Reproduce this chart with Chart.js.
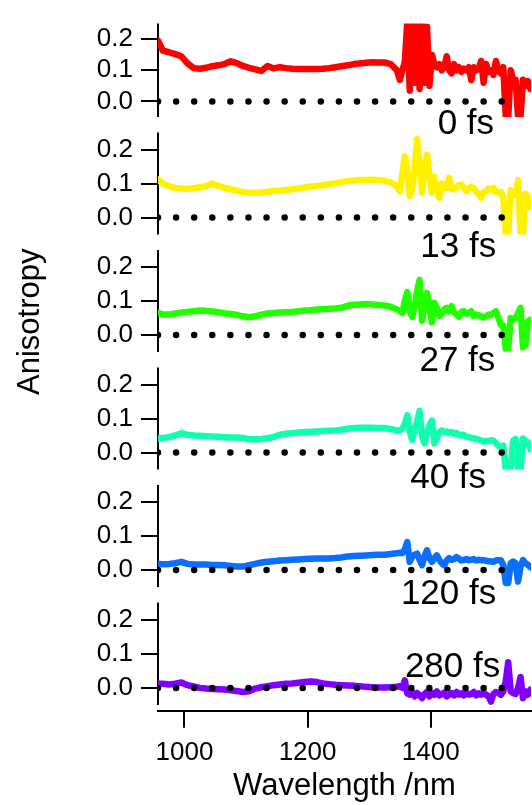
<!DOCTYPE html>
<html>
<head>
<meta charset="utf-8">
<script src="https://cdn.jsdelivr.net/npm/chart.js@4.4.0/dist/chart.umd.min.js"></script>
<style>
html,body{margin:0;padding:0;background:#fff;}
#wrap{position:relative;width:532px;height:805px;overflow:hidden;background:#fff;}
#wrap canvas{position:absolute;left:0;top:0;}
</style>
</head>
<body>
<div id="wrap"></div>
<script>
// ---------------- DATA ----------------
const wavelengths = [
  957, 965, 975, 985, 995, 1005, 1015, 1025, 1035, 1045,
  1055, 1065, 1075, 1085, 1095, 1105, 1115, 1125, 1135, 1145,
  1155, 1165, 1175, 1185, 1195, 1205, 1215, 1225, 1235, 1245,
  1255, 1265, 1275, 1285, 1295, 1305, 1315, 1325, 1335, 1345,
  1350, 1354, 1358, 1362, 1366, 1370, 1374, 1378, 1382, 1386,
  1390, 1394, 1398, 1402, 1406, 1410, 1414, 1418, 1422, 1426,
  1430, 1434, 1438, 1442, 1446, 1450, 1454, 1458, 1462, 1466,
  1470, 1474, 1478, 1482, 1486, 1490, 1494, 1498, 1502, 1506,
  1510, 1514, 1518, 1522, 1526, 1530, 1534, 1538, 1542, 1546,
  1550, 1554, 1558, 1562
];

const aniso0fs = [
  0.195, 0.163, 0.158, 0.152, 0.145, 0.122, 0.107, 0.105, 0.108, 0.113,
  0.116, 0.12, 0.129, 0.123, 0.114, 0.108, 0.103, 0.098, 0.114, 0.106,
  0.11, 0.107, 0.105, 0.104, 0.104, 0.104, 0.104, 0.105, 0.107, 0.11,
  0.113, 0.116, 0.12, 0.122, 0.124, 0.126, 0.125, 0.125, 0.12, 0.1,
  0.069, 0.1, 0.127, 0.255, 0.035, 0.25, 0.06, 0.245, 0.04, 0.25,
  0.06, 0.24, 0.05, 0.15, 0.12, 0.11, 0.12, 0.1, 0.11, 0.145,
  0.1, 0.09, 0.12, 0.1, 0.11, 0.095, 0.105, 0.1, 0.11, 0.068,
  0.11, 0.1, 0.105, 0.13, 0.06, 0.12, 0.095, 0.1, 0.085, 0.13,
  0.1, 0.09, 0.11, -0.05, -0.05, 0.1, 0.07, 0.07, -0.05, -0.05,
  0.07, 0.05, 0.065, 0.04
];

const aniso13fs = [
  0.112, 0.1, 0.092, 0.087, 0.085, 0.084, 0.086, 0.089, 0.092, 0.1,
  0.093, 0.087, 0.083, 0.079, 0.075, 0.073, 0.072, 0.073, 0.076, 0.078,
  0.079, 0.081, 0.083, 0.085, 0.088, 0.091, 0.093, 0.095, 0.098, 0.101,
  0.104, 0.107, 0.109, 0.11, 0.11, 0.111, 0.11, 0.108, 0.103, 0.092,
  0.077, 0.13, 0.18, 0.14, 0.063, 0.08, 0.15, 0.23, 0.15, 0.073,
  0.15, 0.185, 0.12, 0.073, 0.12, 0.075, 0.058, 0.1, 0.085, 0.087,
  0.117, 0.085, 0.082, 0.09, 0.095, 0.097, 0.085, 0.077, 0.085, 0.09,
  0.087, 0.075, 0.07, 0.058, 0.075, 0.077, 0.085, 0.08, 0.087, 0.075,
  0.073, 0.075, 0.06, -0.05, -0.05, 0.08, 0.07, 0.065, 0.11, -0.05,
  -0.05, 0.07, 0.06, 0.03
];

const aniso27fs = [
  0.065, 0.06, 0.06, 0.063, 0.066, 0.068, 0.07, 0.072, 0.071, 0.069,
  0.067, 0.064, 0.062, 0.059, 0.055, 0.052, 0.055, 0.06, 0.063, 0.065,
  0.066, 0.067, 0.068, 0.07, 0.072, 0.073, 0.075, 0.076, 0.077, 0.078,
  0.08, 0.086, 0.089, 0.09, 0.091, 0.09, 0.088, 0.087, 0.083, 0.076,
  0.07, 0.065, 0.1, 0.126, 0.07, 0.053, 0.085, 0.13, 0.162, 0.042,
  0.09, 0.124, 0.08, 0.037, 0.095, 0.08, 0.056, 0.062, 0.075, 0.08,
  0.07, 0.085, 0.066, 0.06, 0.054, 0.068, 0.07, 0.062, 0.065, 0.07,
  0.056, 0.06, 0.058, 0.055, 0.051, 0.055, 0.06, 0.058, 0.065, 0.07,
  0.05, 0.03, 0.028, -0.04, -0.04, 0.05, 0.045, 0.05, 0.065, 0.08,
  -0.036, -0.03, 0.04, 0.045
];

const aniso40fs = [
  0.041, 0.043, 0.045, 0.05, 0.057, 0.052, 0.05, 0.049, 0.048, 0.047,
  0.046, 0.045, 0.044, 0.044, 0.043, 0.039, 0.039, 0.04, 0.042, 0.046,
  0.052, 0.055, 0.057, 0.059, 0.06, 0.061, 0.062, 0.063, 0.064, 0.065,
  0.067, 0.07, 0.072, 0.073, 0.073, 0.073, 0.072, 0.072, 0.069, 0.065,
  0.065, 0.07, 0.085, 0.109, 0.06, 0.037, 0.07, 0.09, 0.123, 0.046,
  0.027, 0.06, 0.08, 0.094, 0.027, 0.04, 0.06, 0.065, 0.06, 0.062,
  0.058, 0.06, 0.055, 0.058, 0.052, 0.05, 0.052, 0.047, 0.045, 0.043,
  0.042, 0.04, 0.038, 0.035, 0.032, 0.034, 0.033, 0.036, 0.035, 0.028,
  0.02, 0.017, 0.02, -0.05, -0.05, -0.05, 0.035, 0.04, -0.05, -0.05,
  0.041, 0.035, 0.03, 0.01
];

const aniso120fs = [
  0.018, 0.017, 0.018, 0.02, 0.024, 0.018, 0.016, 0.016, 0.016, 0.015,
  0.015, 0.014, 0.012, 0.01, 0.01, 0.014, 0.018, 0.022, 0.024, 0.026,
  0.028, 0.029, 0.03, 0.031, 0.032, 0.033, 0.034, 0.034, 0.034, 0.035,
  0.037, 0.04, 0.041, 0.042, 0.043, 0.044, 0.045, 0.045, 0.047, 0.049,
  0.051, 0.05, 0.06, 0.082, 0.024, 0.04, 0.045, 0.048, 0.03, 0.014,
  0.04, 0.058, 0.035, 0.024, 0.035, 0.043, 0.03, 0.02, 0.014, 0.028,
  0.035, 0.03, 0.032, 0.038, 0.033, 0.028, 0.03, 0.032, 0.029, 0.03,
  0.032, 0.028, 0.03, 0.029, 0.029, 0.027, 0.026, 0.025, 0.024, 0.028,
  0.029, 0.029, 0.015, -0.038, -0.038, 0.02, 0.025, 0.02, -0.034, 0.01,
  0.029, 0.02, 0.015, 0.008
];

const aniso280fs = [
  0.012, 0.012, 0.01, 0.012, 0.016, 0.008, 0.004, 0.0, -0.002, -0.003,
  -0.004, -0.005, -0.007, -0.009, -0.012, -0.01, -0.002, 0.002, 0.005, 0.008,
  0.01, 0.012, 0.013, 0.015, 0.017, 0.019, 0.017, 0.013, 0.011, 0.009,
  0.008, 0.007, 0.006, 0.005, 0.003, 0.002, 0.001, 0.001, 0.002, 0.003,
  0.005, 0.0, 0.022, -0.016, -0.02, -0.012, -0.025, -0.015, -0.022, -0.03,
  -0.018, -0.012, -0.025, -0.015, -0.02, -0.01, -0.022, -0.018, -0.014, -0.025,
  -0.02, -0.015, -0.022, -0.012, -0.02, -0.016, -0.022, -0.014, -0.02, -0.018,
  -0.012, -0.022, -0.016, -0.02, -0.014, -0.02, -0.025, -0.04, -0.018, -0.012,
  -0.015, -0.02, -0.01, 0.02, 0.075, -0.01, -0.015, -0.018, 0.0, 0.032,
  -0.03, -0.01, -0.02, -0.005
];

const delayLabels = ['0 fs', '13 fs', '27 fs', '40 fs', '120 fs', '280 fs'];
const seriesValues = [aniso0fs, aniso13fs, aniso27fs, aniso40fs, aniso120fs, aniso280fs];
const zeroLineX = [957, 1516];
const xTickValues = [1000, 1200, 1400];
const yTickValues = [0.0, 0.1, 0.2];

// ---------------- STYLE / LAYOUT ----------------
const seriesColors = ['#FF0000', '#FFF200', '#22FF00', '#10FFB0', '#0A6EFF', '#8000FF'];
// label anchor (right edge, baseline) in data units of each panel
const labelAnchorX = [1503, 1506.5, 1505, 1490, 1506.5, 1513];
const labelAnchorY = [-0.103, -0.115, -0.107, -0.103, -0.101, 0.031];

const FONT = '"Liberation Sans", Arial, Helvetica, sans-serif';
const X_MIN = 957, X_MAX = 1563, Y_MIN = -0.05, Y_MAX = 0.25;
const W = 532, H = 805;
const PANEL_TOP = 15, PANEL_STEP = 117.5, PANEL_H = 102, PLOT_LEFT = 158;
const X_AXIS_GAP = 5.7, X_AXIS_H = 94.3;
const TICK_FONT = 26, TITLE_FONT = 31, LABEL_FONT = 35, LINE_W = 6.5, DOT_W = 6.5;

const axisLinePlugin = {
  id: 'axisLine',
  beforeDatasetsDraw(chart) {
    const ys = chart.scales.y, ctx = chart.ctx, x = chart.chartArea.left;
    ctx.save();
    ctx.strokeStyle = '#000';
    ctx.lineWidth = 2;
    ctx.beginPath();
    ctx.moveTo(x, ys.getPixelForValue(Y_MAX));
    ctx.lineTo(x, ys.getPixelForValue(Y_MIN));
    ctx.stroke();
    ctx.restore();
  }
};

function labelPlugin(i) {
  return {
    id: 'panelLabel' + i,
    afterDraw(chart) {
      const ctx = chart.ctx;
      ctx.save();
      ctx.fillStyle = '#000';
      ctx.font = LABEL_FONT + 'px ' + FONT;
      ctx.textAlign = 'right';
      ctx.textBaseline = 'alphabetic';
      ctx.fillText(delayLabels[i],
        chart.scales.x.getPixelForValue(labelAnchorX[i]),
        chart.scales.y.getPixelForValue(labelAnchorY[i]));
      ctx.restore();
    }
  };
}

const yTitlePlugin = {
  id: 'yTitle',
  afterDraw(chart) {
    const ctx = chart.ctx;
    ctx.save();
    ctx.translate(38.5, 395);
    ctx.rotate(-Math.PI / 2);
    ctx.fillStyle = '#000';
    ctx.font = TITLE_FONT + 'px ' + FONT;
    ctx.textAlign = 'left';
    ctx.textBaseline = 'alphabetic';
    ctx.fillText('Anisotropy', 0, 0);
    ctx.restore();
  }
};

const wrap = document.getElementById('wrap');
seriesValues.forEach((vals, i) => {
  const last = i === seriesValues.length - 1;
  const cv = document.createElement('canvas');
  cv.width = W; cv.height = H;
  cv.style.width = W + 'px'; cv.style.height = H + 'px';
  wrap.appendChild(cv);
  const top = PANEL_TOP + PANEL_STEP * i;
  const yMin = last ? Y_MIN - X_AXIS_GAP * (Y_MAX - Y_MIN) / PANEL_H : Y_MIN;
  const bottomPad = last ? 0 : H - (top + PANEL_H);
  const plugins = [axisLinePlugin, labelPlugin(i)];
  if (i === 0) plugins.push(yTitlePlugin);
  new Chart(cv, {
    type: 'line',
    data: {
      datasets: [
        {
          data: zeroLineX.map(x => ({x: x, y: 0})),
          borderColor: '#000', borderWidth: DOT_W,
          borderDash: [0, 18.09], borderCapStyle: 'round',
          pointRadius: 0, order: 0
        },
        {
          data: wavelengths.map((x, k) => ({x: x, y: vals[k]})),
          borderColor: seriesColors[i], borderWidth: LINE_W,
          borderJoinStyle: 'round', borderCapStyle: 'round',
          pointRadius: 0, tension: 0, order: 1
        }
      ]
    },
    options: {
      responsive: false, animation: false, devicePixelRatio: 1, events: [],
      layout: {padding: {top: top, bottom: bottomPad, left: 0, right: 1}},
      plugins: {legend: {display: false}, tooltip: {enabled: false}, title: {display: false}},
      scales: {
        x: {
          type: 'linear', min: X_MIN, max: X_MAX, display: last,
          afterBuildTicks: s => { s.ticks = xTickValues.map(v => ({value: v})); },
          afterFit: s => { if (last) s.height = X_AXIS_H; },
          grid: {drawOnChartArea: false, drawTicks: true, tickLength: 17, lineWidth: 2, color: '#000'},
          border: {display: true, color: '#000', width: 2},
          ticks: {color: '#000', font: {family: FONT, size: TICK_FONT}, padding: 10, maxRotation: 0, autoSkip: false,
                  callback: v => String(v)},
          title: {display: true, text: 'Wavelength /nm', color: '#000',
                  font: {family: FONT, size: TITLE_FONT}, padding: {top: 0, bottom: 0}}
        },
        y: {
          type: 'linear', min: yMin, max: Y_MAX,
          afterBuildTicks: s => { s.ticks = yTickValues.map(v => ({value: v})); },
          afterFit: s => { s.width = PLOT_LEFT; },
          grid: {drawOnChartArea: false, drawTicks: true, tickLength: 17, lineWidth: 2, color: '#000'},
          border: {display: false},
          ticks: {color: '#000', font: {family: FONT, size: TICK_FONT}, padding: 8, autoSkip: false,
                  callback: v => Number(v).toFixed(1)}
        }
      }
    },
    plugins: plugins
  });
});
</script>
</body>
</html>
